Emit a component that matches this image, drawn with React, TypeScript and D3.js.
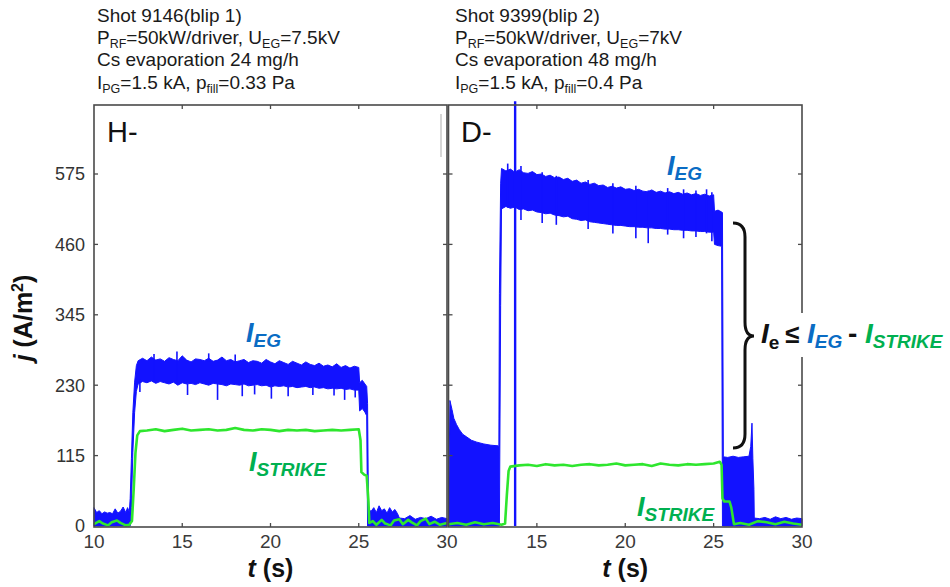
import React from "react";
import * as d3 from "d3";

// ---------- data ----------
const Y_TICKS = [0, 115, 230, 345, 460, 575];
const X_TICKS = [10, 15, 20, 25, 30];

const TITLE_H = ["Shot 9146(blip 1)", "50kW/driver, ", "7.5kV", "Cs evaporation 24 mg/h", "1.5 kA, ", "0.33 Pa"];
const TITLE_D = ["Shot 9399(blip 2)", "50kW/driver, ", "7kV", "Cs evaporation 48 mg/h", "1.5 kA, ", "0.4 Pa"];

// I_EG envelope for H- shot: [t, low, high]
const H_EG: [number, number, number][] = [
  [10.0, 0, 30], [10.15, 0, 22], [10.3, 0, 25], [10.45, 0, 20], [10.6, 0, 23], [10.75, 0, 21], [10.9, 0, 22],
  [11.05, 0, 20], [11.2, 0, 28], [11.35, 0, 21], [11.5, 0, 24], [11.65, 0, 31], [11.8, 0, 22], [11.9, 0, 30],
  [12.0, 0, 23], [12.05, 0, 45], [12.12, 30, 110], [12.2, 120, 185], [12.3, 185, 235], [12.4, 220, 262],
  [12.5, 232, 270], [12.75, 236, 274], [13.0, 234, 270], [13.25, 237, 276], [13.5, 233, 271], [13.75, 236, 273],
  [14.0, 234, 269], [14.25, 232, 275], [14.5, 235, 272], [14.75, 230, 270], [15.0, 234, 278], [15.25, 232, 271],
  [15.5, 233, 268], [15.75, 231, 273], [16.0, 234, 272], [16.25, 232, 270], [16.5, 230, 274], [16.75, 233, 269],
  [17.0, 232, 271], [17.25, 231, 276], [17.5, 229, 270], [17.75, 232, 272], [18.0, 231, 268], [18.25, 230, 270],
  [18.5, 232, 272], [18.75, 229, 267], [19.0, 230, 270], [19.25, 231, 269], [19.5, 229, 266], [19.75, 230, 272],
  [20.0, 227, 268], [20.25, 229, 265], [20.5, 228, 270], [20.75, 229, 267], [21.0, 227, 264], [21.25, 228, 269],
  [21.5, 226, 266], [21.75, 227, 263], [22.0, 228, 268], [22.25, 226, 264], [22.5, 227, 262], [22.75, 225, 266],
  [23.0, 226, 261], [23.25, 224, 263], [23.5, 225, 260], [23.75, 224, 265], [24.0, 225, 259], [24.25, 223, 262],
  [24.5, 224, 258], [24.75, 222, 261], [25.0, 222, 259], [25.05, 188, 234], [25.2, 192, 238], [25.35, 186, 232],
  [25.45, 180, 228], [25.5, 0, 200], [25.55, 0, 27], [25.7, 0, 24], [25.85, 0, 30], [26.0, 0, 22], [26.15, 0, 33],
  [26.3, 0, 25], [26.45, 0, 28], [26.6, 0, 21], [26.75, 0, 30], [26.9, 0, 23], [27.05, 0, 27], [27.2, 0, 20],
  [27.3, 0, 13], [27.6, 0, 12], [27.9, 0, 17], [28.2, 0, 11], [28.5, 0, 14], [28.8, 0, 12], [29.1, 0, 16],
  [29.4, 0, 11], [29.7, 0, 14], [30.0, 0, 12],
];

// short vertical excursions of the H- I_EG signal: [t, low, high]
const H_EG_SPIKES: [number, number, number][] = [
  [12.6, 219, 240], [13.4, 236, 281], [14.7, 232, 285], [15.3, 214, 232], [16.5, 268, 282], [17.0, 206, 232],
  [18.0, 266, 280], [18.4, 212, 231], [19.1, 215, 230], [20.05, 208, 227], [21.0, 212, 227], [22.4, 214, 226],
  [23.6, 213, 225], [24.2, 206, 224], [24.8, 210, 222],
];

// I_STRIKE for H- shot: [t, value]
const H_STRIKE: [number, number][] = [
  [10.0, 3], [10.3, 8], [10.5, 4], [10.8, 1], [11.0, 6], [11.3, 9], [11.5, 5], [11.8, 1], [12.0, 2], [12.15, 8],
  [12.25, 60], [12.35, 120], [12.45, 148], [12.6, 155], [13.0, 156], [13.5, 158], [14.0, 155], [14.5, 157],
  [15.0, 159], [15.5, 156], [16.0, 157], [16.5, 158], [17.0, 156], [17.5, 157], [18.0, 160], [18.5, 157],
  [19.0, 156], [19.5, 158], [20.0, 157], [20.5, 155], [21.0, 157], [21.5, 156], [22.0, 157], [22.5, 155],
  [23.0, 156], [23.5, 157], [24.0, 156], [24.5, 157], [25.0, 158], [25.1, 140], [25.15, 88], [25.3, 84],
  [25.45, 82], [25.55, 40], [25.6, 5], [25.8, 8], [26.0, 2], [26.3, 10], [26.5, 4], [26.8, 1], [27.0, 9],
  [27.3, 11], [27.5, 3], [27.8, 10], [28.0, 6], [28.3, 1], [28.5, 8], [28.8, 12], [29.0, 3], [29.3, 7],
  [29.6, 2], [30.0, 5],
];

// I_EG envelope for D- shot: [t, low, high]
const D_EG: [number, number, number][] = [
  [10.0, 0, 8], [10.08, 0, 205], [10.2, 0, 190], [10.3, 0, 176], [10.45, 0, 166], [10.6, 0, 158], [10.8, 0, 150],
  [11.0, 0, 146], [11.3, 0, 140], [11.6, 0, 137], [12.0, 0, 134], [12.4, 0, 132], [12.8, 0, 131], [12.85, 0, 130],
  [12.88, 0, 380], [12.95, 360, 560], [13.0, 518, 584], [13.25, 522, 580], [13.5, 519, 583], [13.75, 521, 578],
  [14.0, 517, 582], [14.25, 518, 577], [14.5, 515, 576], [14.75, 516, 579], [15.0, 513, 574], [15.25, 512, 575],
  [15.5, 510, 571], [15.75, 511, 573], [16.0, 508, 569], [16.25, 507, 570], [16.5, 505, 566], [16.75, 506, 568],
  [17.0, 502, 563], [17.25, 501, 565], [17.5, 499, 560], [17.75, 500, 562], [18.0, 497, 558], [18.25, 496, 560],
  [18.5, 495, 556], [18.75, 494, 557], [19.0, 493, 553], [19.25, 492, 555], [19.5, 491, 552], [19.75, 491, 554],
  [20.0, 490, 550], [20.25, 489, 551], [20.5, 489, 548], [20.75, 488, 550], [21.0, 488, 547], [21.25, 487, 546],
  [21.5, 487, 549], [21.75, 486, 545], [22.0, 486, 547], [22.25, 485, 544], [22.5, 485, 546], [22.75, 484, 543],
  [23.0, 484, 545], [23.25, 483, 542], [23.5, 483, 544], [23.75, 482, 541], [24.0, 482, 543], [24.25, 481, 540],
  [24.5, 481, 542], [24.75, 480, 539], [25.0, 480, 541], [25.05, 460, 514], [25.25, 458, 516], [25.45, 457, 513],
  [25.5, 0, 512], [25.55, 0, 113], [25.8, 0, 112], [26.1, 0, 114], [26.4, 0, 112], [26.7, 0, 113], [27.0, 0, 114],
  [27.1, 0, 130], [27.17, 0, 168], [27.22, 0, 110], [27.28, 0, 60], [27.3, 0, 13], [27.6, 0, 12], [27.9, 0, 14],
  [28.2, 0, 11], [28.5, 0, 15], [28.8, 0, 12], [29.1, 0, 14], [29.4, 0, 11], [29.7, 0, 13], [30.0, 0, 12],
];

const D_EG_SPIKES: [number, number, number][] = [
  [13.35, 520, 592], [13.77, 0, 694], [14.1, 500, 588], [15.3, 495, 578], [16.1, 492, 572], [17.9, 485, 565],
  [19.3, 478, 560], [20.6, 470, 556], [21.3, 462, 548], [22.4, 476, 552], [23.3, 470, 550], [24.0, 472, 548],
  [24.6, 478, 550], [24.9, 465, 545],
];

const D_STRIKE: [number, number][] = [
  [10.0, 3], [10.5, 5], [11.0, 2], [11.5, 6], [12.0, 3], [12.5, 5], [13.0, 2], [13.2, 4], [13.3, 50], [13.4, 90],
  [13.5, 97], [14.0, 99], [14.5, 100], [15.0, 98], [15.5, 101], [16.0, 99], [16.5, 100], [17.0, 98], [17.5, 100],
  [18.0, 101], [18.5, 99], [19.0, 100], [19.5, 102], [20.0, 99], [20.5, 100], [21.0, 101], [21.5, 98], [22.0, 102],
  [22.5, 100], [23.0, 99], [23.5, 101], [24.0, 100], [24.5, 101], [25.0, 102], [25.35, 105], [25.45, 100],
  [25.5, 45], [25.6, 40], [25.9, 40], [26.0, 30], [26.15, 3], [26.5, 5], [27.0, 2], [27.5, 8], [28.0, 6],
  [28.5, 3], [29.0, 7], [29.5, 4], [30.0, 2],
];

// ---------- styling ----------
const FONT = "'Liberation Sans', Arial, Helvetica, sans-serif";
const BLUE = "#1212ff";
const GREEN = "#2ee62e";
const LBL_BLUE = "#0a6cc4";
const LBL_GREEN = "#00b050";
const FRAME = "#4a4a4a";
const TOP = 105;
const BOTTOM = 527;

const y = d3.scaleLinear().domain([0, 575]).range([526, 174]);

function Panel({ x0, x1, eg, spikes, strike, showFirstLabel }: any) {
  const x = d3.scaleLinear().domain([10, 30]).range([x0, x1]);
  const area = d3
    .area<[number, number, number]>()
    .x((d) => x(d[0]))
    .y0((d) => y(d[1]))
    .y1((d) => y(d[2]));
  const line = d3
    .line<[number, number]>()
    .x((d) => x(d[0]))
    .y((d) => y(d[1]));
  return (
    <g>
      <path d={area(eg) || ""} fill={BLUE} stroke={BLUE} strokeWidth={1} />
      {spikes.map((s: number[], i: number) => (
        <line key={i} x1={x(s[0])} x2={x(s[0])} y1={y(s[1])} y2={y(s[2])} stroke={BLUE} strokeWidth={s[1] === 0 ? 2.4 : 1.6} />
      ))}
      <path d={line(strike) || ""} fill="none" stroke={GREEN} strokeWidth={2.6} strokeLinejoin="round" />
      <rect x={x0} y={TOP} width={x1 - x0} height={BOTTOM - TOP} fill="none" stroke={FRAME} strokeWidth={1.6} />
      {Y_TICKS.slice(1).map((t) => (
        <g key={t}>
          <line x1={x0} x2={x0 + 4} y1={y(t)} y2={y(t)} stroke={FRAME} strokeWidth={1.3} />
          <line x1={x1} x2={x1 - 4} y1={y(t)} y2={y(t)} stroke={FRAME} strokeWidth={1.3} />
        </g>
      ))}
      {X_TICKS.slice(1, -1).map((t) => (
        <g key={t}>
          <line x1={x(t)} x2={x(t)} y1={BOTTOM} y2={BOTTOM - 4} stroke={FRAME} strokeWidth={1.3} />
          <line x1={x(t)} x2={x(t)} y1={TOP} y2={TOP + 4} stroke={FRAME} strokeWidth={1.3} />
        </g>
      ))}
      {X_TICKS.slice(showFirstLabel ? 0 : 1).map((t) => (
        <text key={t} x={x(t)} y={548} textAnchor="middle" fontSize={19} fill="#3a3a3a" fontFamily={FONT}>
          {t}
        </text>
      ))}
      <text x={(x0 + x1) / 2} y={577} textAnchor="middle" fontSize={25} fontWeight="bold" fontFamily={FONT} fill="#111">
        <tspan fontStyle="italic">t</tspan> (s)
      </text>
    </g>
  );
}

function Title({ x, lines }: { x: number; lines: string[] }) {
  const fs = 19;
  const sub = 12.5;
  return (
    <g fontFamily={FONT} fontSize={fs} fill="#1a1a1a">
      <text x={x} y={22}>{lines[0]}</text>
      <text x={x} y={44}>
        P<tspan fontSize={sub} dy={4}>RF</tspan>
        <tspan dy={-4}>={lines[1]}U</tspan>
        <tspan fontSize={sub} dy={4}>EG</tspan>
        <tspan dy={-4}>={lines[2]}</tspan>
      </text>
      <text x={x} y={66}>{lines[3]}</text>
      <text x={x} y={89}>
        I<tspan fontSize={sub} dy={4}>PG</tspan>
        <tspan dy={-4}>={lines[4]}p</tspan>
        <tspan fontSize={sub} dy={4}>fill</tspan>
        <tspan dy={-4}>={lines[5]}</tspan>
      </text>
    </g>
  );
}

function CurLabel({ x, yb, sub, color, big = 27, small = 19 }: any) {
  return (
    <text x={x} y={yb} fontFamily={FONT} fontWeight="bold" fontStyle="italic" fill={color} fontSize={big}>
      I<tspan fontSize={small} dy={5}>{sub}</tspan>
    </text>
  );
}

export default function App() {
  return (
    <svg width={950} height={587} style={{ position: "absolute", left: 0, top: 0, background: "#fff" }}>
      <rect x={0} y={0} width={950} height={587} fill="#fff" />
      <Title x={97} lines={TITLE_H} />
      <Title x={455} lines={TITLE_D} />

      <Panel x0={94} x1={447} eg={H_EG} spikes={H_EG_SPIKES} strike={H_STRIKE} showFirstLabel={true} />
      <Panel x0={448.5} x1={802} eg={D_EG} spikes={D_EG_SPIKES} strike={D_STRIKE} showFirstLabel={false} />

      <line x1={441} x2={441} y1={114} y2={157} stroke="#c8c8c8" strokeWidth={1.5} />

      {Y_TICKS.map((t) => (
        <text key={t} x={85} y={y(t)} dy="0.36em" textAnchor="end" fontSize={18} fill="#333" fontFamily={FONT}>
          {t}
        </text>
      ))}
      <text transform="translate(32,318) rotate(-90)" textAnchor="middle" fontSize={25} fontWeight="bold" fontFamily={FONT} fill="#111">
        <tspan fontStyle="italic">j</tspan> (A/m<tspan fontSize={16} dy={-9}>2</tspan>
        <tspan dy={9}>)</tspan>
      </text>

      <text x={107} y={142} fontSize={29} fontFamily={FONT} fill="#111">H-</text>
      <text x={461} y={142} fontSize={29} fontFamily={FONT} fill="#111">D-</text>

      <CurLabel x={246} yb={342} sub="EG" color={LBL_BLUE} />
      <CurLabel x={249} yb={471} sub="STRIKE" color={LBL_GREEN} />
      <CurLabel x={667} yb={175} sub="EG" color={LBL_BLUE} />
      <CurLabel x={637} yb={516} sub="STRIKE" color={LBL_GREEN} />

      {/* brace annotation */}
      <path
        d="M733,223 Q745,223 745,237 L745,322 Q745,336 754,336 Q745,336 745,350 L745,434 Q745,448 733,448"
        fill="none"
        stroke="#111"
        strokeWidth={3}
      />
      <rect x={756} y={313} width={194} height={44} fill="#fff" />
      <g fontFamily={FONT} fontWeight="bold">
        <text x={761} y={343} fontSize={28} fontStyle="italic" fill="#111">
          I<tspan fontSize={19} fontStyle="normal" dy={6}>e</tspan>
        </text>
        <text x={785} y={343} fontSize={26} fill="#111">≤</text>
        <CurLabel x={807} yb={343} sub="EG" color={LBL_BLUE} big={28} small={19} />
        <text x={848} y={343} fontSize={28} fill="#111">-</text>
        <CurLabel x={865} yb={343} sub="STRIKE" color={LBL_GREEN} big={28} small={19} />
      </g>
    </svg>
  );
}
